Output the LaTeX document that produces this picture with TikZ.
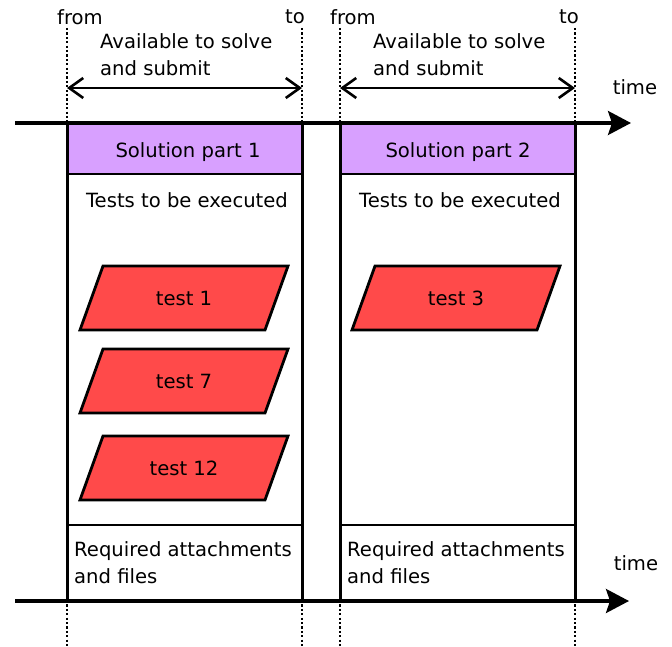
\documentclass[tikz,border=0pt]{standalone}
\usepackage{fontspec}
\setmainfont{DejaVu Sans}
\usetikzlibrary{arrows.meta}

\definecolor{solpurple}{RGB}{216,160,255}
\definecolor{testred}{RGB}{255,74,74}

\tikzset{
  header/.style={fill=solpurple},
  partbox/.style={draw, line width=3pt},
  divider/.style={line width=1.5pt},
  marker/.style={line width=2.6pt, dash pattern=on 2.2pt off 2.2pt},
  timeaxis/.style={line width=3.2pt, -{Stealth[length=23pt,width=24pt,inset=4pt]}},
  window/.style={line width=2.6pt,
    {Straight Barb[length=14pt,width=20pt]}-{Straight Barb[length=14pt,width=20pt]}},
  testshape/.style={fill=testred, draw, line width=2.8pt, line join=miter},
  lbl/.style={inner sep=0pt},
  block/.style={inner sep=0pt, align=left, anchor=north west},
}

% slanted test box: name, centre x, centre y, text
\newcommand\testpar[4]{%
  \draw[testshape] ({#2-104},{#3+32}) -- ({#2+81},{#3+32})
    -- ({#2+104},{#3-32}) -- ({#2-81},{#3-32}) -- cycle;
  \node[lbl] (#1) at (#2,#3) {#4};
}

\begin{document}
\begin{tikzpicture}[x=1pt,y=-1pt,font=\fontsize{19.6}{27}\selectfont]
\useasboundingbox (0,0) rectangle (672,647);

% solution part frames
\foreach \l/\r in {67/302, 340/575} {
  \fill[header] (\l,123) rectangle (\r,174);
  \draw[divider] (\l,174) -- (\r,174);
  \draw[divider] (\l,525) -- (\r,525);
  \draw[partbox] (\l,123) rectangle (\r,601);
}

% start and end markers
\foreach \x/\n in {67/a, 302/b, 340/c, 575/d} {
  \coordinate (\n top) at (\x,28);
  \coordinate (\n bot) at (\x,647);
  \coordinate (\n mid) at (\x,88);
  \draw[marker] (\n top) -- (\n bot);
}

% time axes
\coordinate (t1s) at (15,123);
\coordinate (t1e) at (631,123);
\coordinate (t2s) at (15,601);
\coordinate (t2e) at (629,601);
\draw[timeaxis] (t1s) -- (t1e);
\draw[timeaxis] (t2s) -- (t2e);
\node[lbl] (time1) at (635,87) {time};
\node[lbl] (time2) at (636,563) {time};

% availability windows
\draw[window] (amid) -- (bmid);
\draw[window] (cmid) -- (dmid);

\node[lbl] (from1) at (80,17) {from};
\node[lbl] (to1) at (295,17) {to};
\node[lbl] (from2) at (353,17) {from};
\node[lbl] (to2) at (569,17) {to};

\node[block] (avail1) at (100,33) {Available to solve\\and submit};
\node[block] (avail2) at (373,33) {Available to solve\\and submit};

% headers and sections
\node[lbl] (sol1) at (188,152) {Solution part 1};
\node[lbl] (sol2) at (458,152) {Solution part 2};
\node[lbl] (tests1) at (187,200) {Tests to be executed};
\node[lbl] (tests2) at (460,200) {Tests to be executed};

\testpar{test1}{184}{298}{test 1}
\testpar{test7}{184}{381}{test 7}
\testpar{test12}{184}{468}{test 12}
\testpar{test3}{456}{298}{test 3}

\node[block] (req1) at (74,541) {Required attachments\\and files};
\node[block] (req2) at (347,541) {Required attachments\\and files};
\end{tikzpicture}
\end{document}
